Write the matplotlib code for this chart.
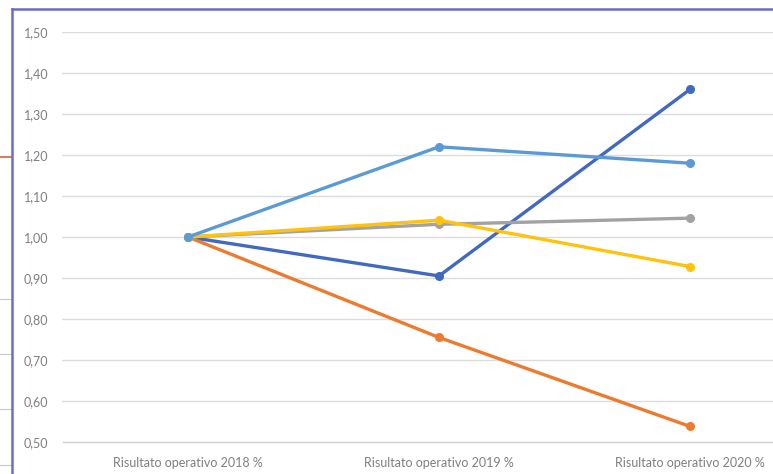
import matplotlib
matplotlib.use("Agg")
import matplotlib.pyplot as plt
from matplotlib.lines import Line2D

categories = ["Risultato operativo 2018 %", "Risultato operativo 2019 %", "Risultato operativo 2020 %"]
series_dark_blue = [1.00, 0.905, 1.36]
series_orange = [1.00, 0.755, 0.538]
series_gray = [1.00, 1.031, 1.046]
series_yellow = [1.00, 1.041, 0.928]
series_light_blue = [1.00, 1.22, 1.18]
yticks = [0.5, 0.6, 0.7, 0.8, 0.9, 1.0, 1.1, 1.2, 1.3, 1.4, 1.5]
ytick_labels = ["0,50", "0,60", "0,70", "0,80", "0,90", "1,00", "1,10", "1,20", "1,30", "1,40", "1,50"]

W, H = 773, 474
fig = plt.figure(figsize=(W / 100, H / 100), dpi=100)
fig.patch.set_facecolor("white")

# extraneous page fragments left of the frame
fig.add_artist(Line2D([0, 11 / W], [1 - 157 / H, 1 - 157 / H], color="#D4643C", lw=1.2))
for yp in [299, 354, 409, 465]:
    fig.add_artist(Line2D([0, 11 / W], [1 - yp / H, 1 - yp / H], color="#C8C8C8", lw=0.8))

# blue frame
fig.add_artist(Line2D([12 / W, 12 / W], [0, 1 - 9 / H], color="#6670C0", lw=1.8))
fig.add_artist(Line2D([12 / W, 1], [1 - 9 / H, 1 - 9 / H], color="#6670C0", lw=1.8))

left = 62.5 / W
right = 815.5 / W
bottom = 1 - 442 / H
top = 1 - 32 / H
ax = fig.add_axes([left, bottom, right - left, top - bottom])
ax.set_facecolor("none")

x = list(range(len(categories)))
series = [
    (series_dark_blue, "#4069BF"),
    (series_orange, "#EE7A30"),
    (series_gray, "#A2A2A2"),
    (series_yellow, "#FFC20E"),
    (series_light_blue, "#5B9BD5"),
]
for vals, col in series:
    ax.plot(x, vals, color=col, lw=2.4, marker="o", ms=5.5, clip_on=False, zorder=3)

ax.set_xlim(-0.5, 2.5)
ax.set_ylim(0.5, 1.5)
ax.set_yticks(yticks)
ax.set_yticklabels(ytick_labels)
ax.set_xticks(x)
ax.set_xticklabels(categories)
for yv in yticks[1:]:
    ax.axhline(yv, color="#DCDCDC", lw=1.0, zorder=1)
for s in ["top", "right", "left"]:
    ax.spines[s].set_visible(False)
ax.spines["bottom"].set_color("#D0D0D0")
ax.spines["bottom"].set_linewidth(1.0)
ax.tick_params(axis="both", length=0, colors="#7F7F7F", labelsize=9)
ax.tick_params(axis="y", pad=10)
ax.tick_params(axis="x", pad=11)
for lab in ax.get_xticklabels() + ax.get_yticklabels():
    lab.set_fontfamily("Lato")
    lab.set_color("#7F7F7F")

fig.savefig("out.png", dpi=100)
